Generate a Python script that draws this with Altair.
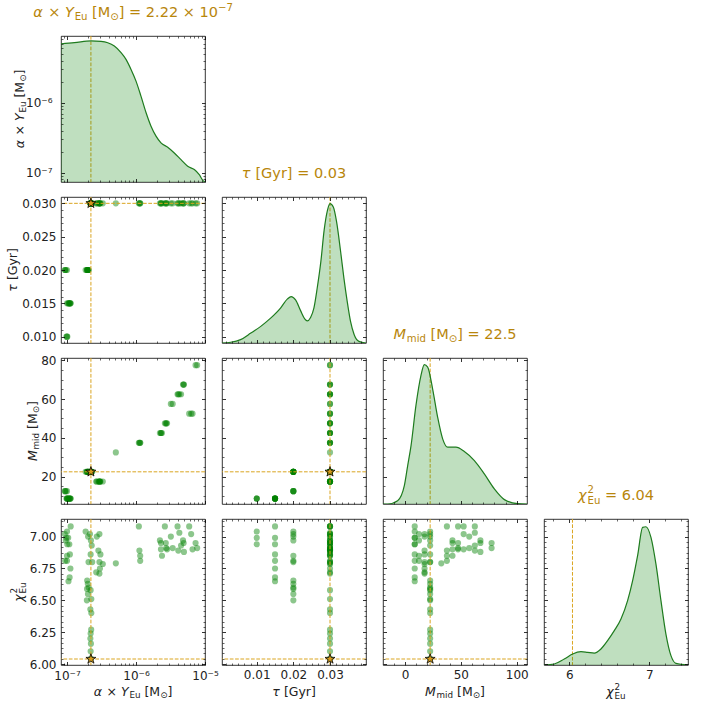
import altair as alt
import pandas as pd

FONT = "DejaVu Sans"
GREEN = "#008000"
LINE_GREEN = "#1e7b1e"
GOLD = "#DAA520"
TITLE_GOLD = "#B8860B"
STAR_FILL = "#D49A1A"
TEXT = "#222222"

# ---------------- samples ----------------
ALPHA = [
    1.00e-7, 0.98e-7, 1.01e-7,
    1.13e-7, 1.04e-7, 1.08e-7, 1.10e-7, 1.00e-7, 1.12e-7, 1.09e-7, 1.05e-7,
    0.93e-7, 0.96e-7, 1.00e-7, 0.94e-7,
    1.86e-7, 2.02e-7, 2.05e-7, 1.96e-7, 2.00e-7, 2.06e-7, 1.95e-7, 2.01e-7, 1.94e-7,
    2.95e-7, 2.70e-7, 2.85e-7, 3.05e-7, 2.95e-7, 3.30e-7, 3.00e-7, 2.65e-7, 2.95e-7,
    2.15e-7, 2.22e-7, 2.28e-7, 2.20e-7, 2.32e-7, 2.20e-7, 2.25e-7, 2.18e-7, 2.25e-7,
    2.24e-7, 2.20e-7, 2.18e-7, 2.22e-7, 2.20e-7, 2.22e-7,
    5.1e-7,
    1.10e-6, 1.12e-6, 1.15e-6, 1.15e-6,
    2.22e-6, 2.30e-6, 2.30e-6, 2.38e-6,
    2.62e-6, 2.70e-6, 2.75e-6, 2.82e-6,
    5.9e-6, 6.3e-6, 6.6e-6,
    3.2e-6, 3.4e-6,
    4.0e-6, 4.25e-6, 4.5e-6, 4.1e-6,
    4.8e-6, 4.9e-6, 4.95e-6,
    7.3e-6, 7.7e-6,
]
TAU = [
    0.010, 0.010, 0.010,
    0.015, 0.015, 0.015, 0.015, 0.015, 0.015, 0.015, 0.015,
    0.020, 0.020, 0.020, 0.020,
    0.020, 0.020, 0.020, 0.020, 0.020, 0.020, 0.020, 0.020, 0.020,
    0.030, 0.030, 0.030, 0.030, 0.030, 0.030, 0.030, 0.030, 0.030,
    0.030, 0.030, 0.030, 0.030, 0.030, 0.030, 0.030, 0.030, 0.030,
    0.030, 0.030, 0.030, 0.030, 0.030, 0.030,
    0.030,
    0.030, 0.030, 0.030, 0.030,
    0.030, 0.030, 0.030, 0.030,
    0.030, 0.030, 0.030, 0.030,
    0.030, 0.030, 0.030,
    0.030, 0.030,
    0.030, 0.030, 0.030, 0.030,
    0.030, 0.030, 0.030,
    0.030, 0.030,
]
MMID = [
    8.7, 8.7, 8.7,
    8.7, 8.7, 8.7, 8.7, 8.7, 8.7, 8.7, 8.7,
    12.5, 12.5, 12.5, 12.5,
    22.5, 22.5, 22.5, 22.5, 22.5, 22.5, 22.5, 22.5, 22.5,
    17.5, 17.5, 17.5, 17.5, 17.5, 17.5, 17.5, 17.5, 17.5,
    22.5, 22.5, 22.5, 22.5, 22.5, 22.5, 22.5, 22.5, 22.5,
    22.5, 22.5, 22.5, 22.5, 22.5, 22.5,
    32.5,
    37.5, 37.5, 37.5, 37.5,
    42.5, 42.5, 42.5, 42.5,
    47.5, 47.5, 47.5, 47.5,
    52.5, 52.5, 52.5,
    57.5, 57.5,
    62.5, 62.5, 62.5, 62.5,
    67.5, 67.5, 67.5,
    77.5, 77.5,
]
CHI2 = [
    7.04, 6.99, 6.94,
    7.08, 6.99, 6.94, 6.86, 6.81, 6.75, 6.68, 6.65,
    7.02, 6.97, 6.85, 6.81,
    7.04, 7.00, 6.80, 6.655, 6.63, 6.60, 6.59, 6.55, 6.50,
    7.02, 7.00, 6.89, 6.86, 6.80, 6.785, 6.75, 6.72, 6.71,
    7.02, 6.97, 6.93, 6.86, 6.80, 6.58, 6.51, 6.43, 6.40,
    6.27, 6.24, 6.20, 6.16, 6.10, 6.044,
    6.79,
    7.08, 6.89, 6.85, 6.81,
    6.97, 6.95, 6.90, 6.85,
    7.08, 6.95, 6.91, 6.90,
    7.08, 7.02, 6.90,
    7.00, 6.91,
    7.08, 7.03, 6.93, 6.89,
    6.97, 6.95, 6.88,
    6.95, 6.91,
]

VARS = ["alpha", "tau", "mmid", "chi2"]
BEST_VALUES = [2.22e-7, 0.03, 22.5, 6.04]

# ---------------- 1-D density curves (fraction of panel height) ----------------
KDE_ALPHA_X = [8.18e-8, 1.28e-7, 2.23e-7, 3.11e-7, 3.89e-7, 4.85e-7, 6.07e-7, 7.16e-7,
               8.47e-7, 1.00e-6, 1.18e-6, 1.40e-6, 1.65e-6, 1.95e-6, 2.30e-6, 2.88e-6,
               3.59e-6, 4.49e-6, 5.61e-6, 7.00e-6, 8.26e-6, 9.44e-6, 1.0e-5]
KDE_ALPHA_H = [0.947, 0.954, 0.966, 0.963, 0.954, 0.931, 0.886, 0.840,
               0.771, 0.691, 0.588, 0.474, 0.382, 0.314, 0.268, 0.238,
               0.199, 0.153, 0.108, 0.085, 0.050, 0.008, 0.0]
KDE_TAU_X = [0.0005, 0.0029, 0.0056, 0.0084, 0.0111, 0.0138, 0.0165, 0.0184, 0.0194, 0.0206,
             0.0220, 0.0231, 0.0238, 0.0247, 0.0256, 0.0265, 0.0275, 0.0284, 0.0293, 0.0300,
             0.0309, 0.0318, 0.0329, 0.0338, 0.0347, 0.0356, 0.0366, 0.0379, 0.0398]
KDE_TAU_H = [0.0, 0.005, 0.023, 0.068, 0.114, 0.170, 0.239, 0.302, 0.318, 0.295,
             0.220, 0.166, 0.152, 0.175, 0.239, 0.375, 0.557, 0.773, 0.909, 0.955,
             0.932, 0.830, 0.625, 0.443, 0.284, 0.148, 0.057, 0.011, 0.0]
KDE_M_X = [-19.7, -15.5, -6.6, -0.6, 2.4, 5.4, 9.8, 14.3, 17.3, 20.3,
           24.7, 29.2, 33.7, 38.2, 45.6, 53.1, 62.1, 71.0, 80.0, 89.0, 100.9, 109.2]
KDE_M_H = [0.0, 0.0, 0.023, 0.126, 0.263, 0.40, 0.675, 0.881, 0.954, 0.938,
           0.789, 0.595, 0.446, 0.389, 0.389, 0.359, 0.297, 0.206, 0.103, 0.030, 0.002, 0.0]
KDE_CHI_X = [5.684, 5.8125, 5.9375, 6.042, 6.146, 6.229, 6.3125, 6.396, 6.479, 6.5625,
             6.646, 6.729, 6.792, 6.854, 6.917, 6.958, 7.021, 7.083, 7.146, 7.208,
             7.271, 7.333, 7.484]
KDE_CHI_H = [0.0, 0.007, 0.041, 0.075, 0.091, 0.087, 0.082, 0.110, 0.167, 0.235,
             0.315, 0.441, 0.578, 0.749, 0.943, 0.947, 0.874, 0.692, 0.441, 0.212,
             0.064, 0.011, 0.0]

# ---------------- axes ----------------
X_DOMAIN = {"alpha": [8.18e-8, 1.0e-5], "tau": [0.00053, 0.03982],
            "mmid": [-19.7, 109.2], "chi2": [5.684, 7.484]}
Y_DOMAIN = {"alpha": [7.36e-8, 8.97e-6], "tau": [0.00905, 0.03095],
            "mmid": [5.9, 81.2], "chi2": [5.993, 7.138]}

LOG_MINOR = [m * 10.0 ** e for e in (-8, -7, -6) for m in range(2, 10)]
X_MAJOR = {"alpha": [1e-7, 1e-6, 1e-5], "tau": [0.01, 0.02, 0.03],
           "mmid": [0, 50, 100], "chi2": [6, 7]}
X_MINOR = {"alpha": LOG_MINOR, "tau": [k / 600 for k in range(1, 24) if k % 6],
           "mmid": [-10, 10, 20, 30, 40, 60, 70, 80, 90],
           "chi2": [5.8, 6.2, 6.4, 6.6, 6.8, 7.2, 7.4]}
Y_MAJOR = {"alpha": [1e-7, 1e-6], "tau": [0.010, 0.015, 0.020, 0.025, 0.030],
           "mmid": [20, 40, 60, 80], "chi2": [6.0, 6.25, 6.5, 6.75, 7.0]}
Y_MINOR = {"alpha": LOG_MINOR,
           "tau": [k / 1000 for k in range(9, 32) if k % 5],
           "mmid": [10, 15, 25, 30, 35, 45, 50, 55, 65, 70, 75],
           "chi2": [6 + k / 24 for k in range(1, 28) if k % 6]}
X_FMT = {"tau": ".2f", "mmid": "d", "chi2": "d"}
Y_FMT = {"tau": ".3f", "mmid": "d", "chi2": ".2f"}
ALPHA_EXPR = "datum.value < 3e-7 ? '10⁻⁷' : (datum.value < 3e-6 ? '10⁻⁶' : '10⁻⁵')"

W, H = 144, 146

POINTS = pd.DataFrame({"alpha": ALPHA, "tau": TAU, "mmid": MMID, "chi2": CHI2})
BEST = pd.DataFrame({v: [b] for v, b in zip(VARS, BEST_VALUES)})
ONE = pd.DataFrame({"k": [0]})
KDE = {
    "alpha": pd.DataFrame({"alpha": KDE_ALPHA_X, "dens": KDE_ALPHA_H}),
    "tau": pd.DataFrame({"tau": KDE_TAU_X, "dens": KDE_TAU_H}),
    "mmid": pd.DataFrame({"mmid": KDE_M_X, "dens": KDE_M_H}),
    "chi2": pd.DataFrame({"chi2": KDE_CHI_X, "dens": KDE_CHI_H}),
}

STAR = ("M0,-1L0.2245,-0.309L0.951,-0.309L0.3633,0.118L0.5878,0.809L0,0.382"
        "L-0.5878,0.809L-0.3633,0.118L-0.951,-0.309L-0.2245,-0.309Z")


def scale_for(v, dom):
    if v == "alpha":
        return alt.Scale(type="log", domain=dom, nice=False)
    return alt.Scale(domain=dom, nice=False, zero=False)


def within(vals, dom):
    return [v for v in vals if dom[0] <= v <= dom[1]]


def make_axis(orient, values, major, show, v, is_x):
    kw = dict(orient=orient, values=values, tickSize=3.5 if major else 2.0,
              offset=-3.5 if major else -2.0, tickWidth=0.8 if major else 0.6,
              tickColor="black", domain=False, grid=False, title=None, labels=show,
              labelFont=FONT, labelFontSize=12, labelColor=TEXT,
              labelFlush=False, labelOverlap=False, labelBound=False, zindex=1)
    if show:
        if v == "alpha":
            kw["labelExpr"] = ALPHA_EXPR
            kw["labelPadding"] = 5.5 if is_x else 9
        else:
            kw["format"] = X_FMT[v] if is_x else Y_FMT[v]
            kw["labelPadding"] = 4 if is_x else 5
    return alt.Axis(**kw)


def carriers(xv, yv, xlabels, ylabels):
    xs, ys = scale_for(xv, X_DOMAIN[xv]), scale_for(yv, Y_DOMAIN[yv])
    out = []
    for major in (True, False):
        xvals = within(X_MAJOR[xv] if major else X_MINOR[xv], X_DOMAIN[xv])
        yvals = within(Y_MAJOR[yv] if major else Y_MINOR[yv], Y_DOMAIN[yv])
        for side in (0, 1):
            xa = make_axis("bottom" if side == 0 else "top", xvals, major,
                           major and side == 0 and xlabels, xv, True)
            ya = make_axis("left" if side == 0 else "right", yvals, major,
                           major and side == 0 and ylabels, yv, False)
            out.append(alt.Chart(BEST).mark_point(opacity=0).encode(
                x=alt.X(f"{xv}:Q", scale=xs, axis=xa),
                y=alt.Y(f"{yv}:Q", scale=ys, axis=ya)))
    return out


CW = {" ": 0.318, ".": 0.318, "=": 0.838, "×": 0.838, "[": 0.390, "]": 0.390,
      "−": 0.838, "M": 0.863, "Y": 0.611, "E": 0.632, "u": 0.634, "G": 0.775,
      "y": 0.592, "r": 0.411, "m": 0.974, "i": 0.278, "d": 0.635, "α": 0.659,
      "τ": 0.560, "χ": 0.600, "⊙": 0.838}

# vertical shift (in units of the base font size) of each text kind
SHIFT = {"n": 0.0, "i": 0.0, "sub": 0.22, "sup": -0.38, "sup0": -0.47, "subs": 0.27}


def seg_width(s, fs):
    return sum(CW.get(c, 0.636 if c.isdigit() else 0.6) for c in s) * fs


def rich(segs, x, y, size, color, angle=0):
    items, cur = [], 0.0
    for txt, kind in segs:
        small = kind in ("sub", "sup", "sup0", "subs")
        fs = size * 0.7 if small else size
        dy = SHIFT[kind] * size
        core = txt.strip(" ")
        lead = len(txt) - len(txt.lstrip(" "))
        w = seg_width(txt, fs) + (0.06 * size if kind == "i" else 0.0)
        items.append((core, fs, kind == "i", cur + lead * CW[" "] * fs, dy))
        if kind != "sup0":
            cur += w
    layers = []
    for core, fs, it, dx, dy in items:
        layers.append(alt.Chart(ONE).mark_text(
            text=core, font=FONT, fontSize=round(fs, 2),
            fontStyle="italic" if it else "normal", color=color,
            align="left", baseline="alphabetic", angle=angle,
            dx=round(dx - cur / 2, 2), dy=round(dy, 2)).encode(
            x=alt.value(x), y=alt.value(y)))
    return layers


LABEL_SEGS = {
    "alpha": [("α", "i"), (" × ", "n"), ("Y", "i"), ("Eu", "sub"), (" [M", "n"), ("⊙", "sub"), ("]", "n")],
    "tau": [("τ", "i"), (" [Gyr]", "n")],
    "mmid": [("M", "i"), ("mid", "sub"), (" [M", "n"), ("⊙", "sub"), ("]", "n")],
    "chi2": [("χ", "i"), ("2", "sup0"), ("Eu", "subs")],
}
DIAG_SUFFIX = {
    "alpha": [(" = 2.22 × 10", "n"), ("−7", "sup")],
    "tau": [(" = 0.03", "n")],
    "mmid": [(" = 22.5", "n")],
    "chi2": [(" = 6.04", "n")],
}
YT_X = {"alpha": -37.5, "tau": -44.5, "mmid": -24.5, "chi2": -38.5}


def edge_titles(i, j):
    out = []
    if i == 3:
        out += rich(LABEL_SEGS[VARS[j]], W / 2, H + 30.5, 12.5, TEXT)
    if j == 0:
        out += rich(LABEL_SEGS[VARS[i]], YT_X[VARS[i]], H / 2, 12.5, TEXT, angle=270)
    return out


def dashed_rule(ch):
    return alt.Chart(BEST).mark_rule(color=GOLD, strokeWidth=1, strokeDash=[3.7, 1.6]).encode(**ch)


def scatter_panel(i, j):
    xv, yv = VARS[j], VARS[i]
    X = alt.X(f"{xv}:Q", scale=scale_for(xv, X_DOMAIN[xv]), axis=None)
    Y = alt.Y(f"{yv}:Q", scale=scale_for(yv, Y_DOMAIN[yv]), axis=None)
    layers = [
        alt.Chart(POINTS).mark_circle(size=38, color=GREEN, opacity=0.45).encode(x=X, y=Y),
        dashed_rule({"x": X}),
        dashed_rule({"y": Y}),
        alt.Chart(BEST).mark_point(shape=STAR, size=110, filled=True, fill=STAR_FILL,
                                   stroke="black", strokeWidth=0.8, opacity=1).encode(x=X, y=Y),
    ]
    layers += carriers(xv, yv, i == 3, j == 0)
    layers += edge_titles(i, j)
    return alt.layer(*layers).resolve_axis(x="independent", y="independent").properties(width=W, height=H)


def diag_panel(i):
    v = VARS[i]
    X = alt.X(f"{v}:Q", scale=scale_for(v, X_DOMAIN[v]), axis=None)
    D = alt.Y("dens:Q", scale=alt.Scale(domain=[0, 1], nice=False, zero=True), axis=None)
    layers = [
        dashed_rule({"x": X}),
        alt.Chart(KDE[v]).mark_area(color=GREEN, opacity=0.25, interpolate="monotone", clip=True).encode(x=X, y=D),
        alt.Chart(KDE[v]).mark_line(color=LINE_GREEN, strokeWidth=1.2, interpolate="monotone", clip=True).encode(x=X, y=D),
    ]
    layers += carriers(v, v, i == 3, i == 0)
    layers += rich(LABEL_SEGS[v] + DIAG_SUFFIX[v], W / 2, -19, 14.5, TITLE_GOLD)
    layers += edge_titles(i, i)
    if i == 0:
        layers.append(alt.Chart(ONE).mark_rule(strokeOpacity=0).encode(
            x=alt.value(-60), x2=alt.value(-59), y=alt.value(-35), y2=alt.value(-34)))
    return (alt.layer(*layers).resolve_scale(y="independent")
            .resolve_axis(x="independent", y="independent").properties(width=W, height=H))


def placeholder():
    return alt.Chart(ONE).mark_point(opacity=0).encode(
        x=alt.value(0), y=alt.value(0)).properties(
        width=W, height=H, view=alt.ViewBackground(stroke="transparent"))


cells = []
for i in range(4):
    for j in range(4):
        if j < i:
            cells.append(scatter_panel(i, j))
        elif j == i:
            cells.append(diag_panel(i))
        else:
            cells.append(placeholder())

chart = alt.concat(*cells, columns=4, spacing={"row": 15, "column": 17}, bounds="flush").configure_view(
    stroke="black", strokeWidth=0.8).properties(padding=0, background="white")

chart.save("out.html", embed_options={"renderer": "svg", "actions": False})
